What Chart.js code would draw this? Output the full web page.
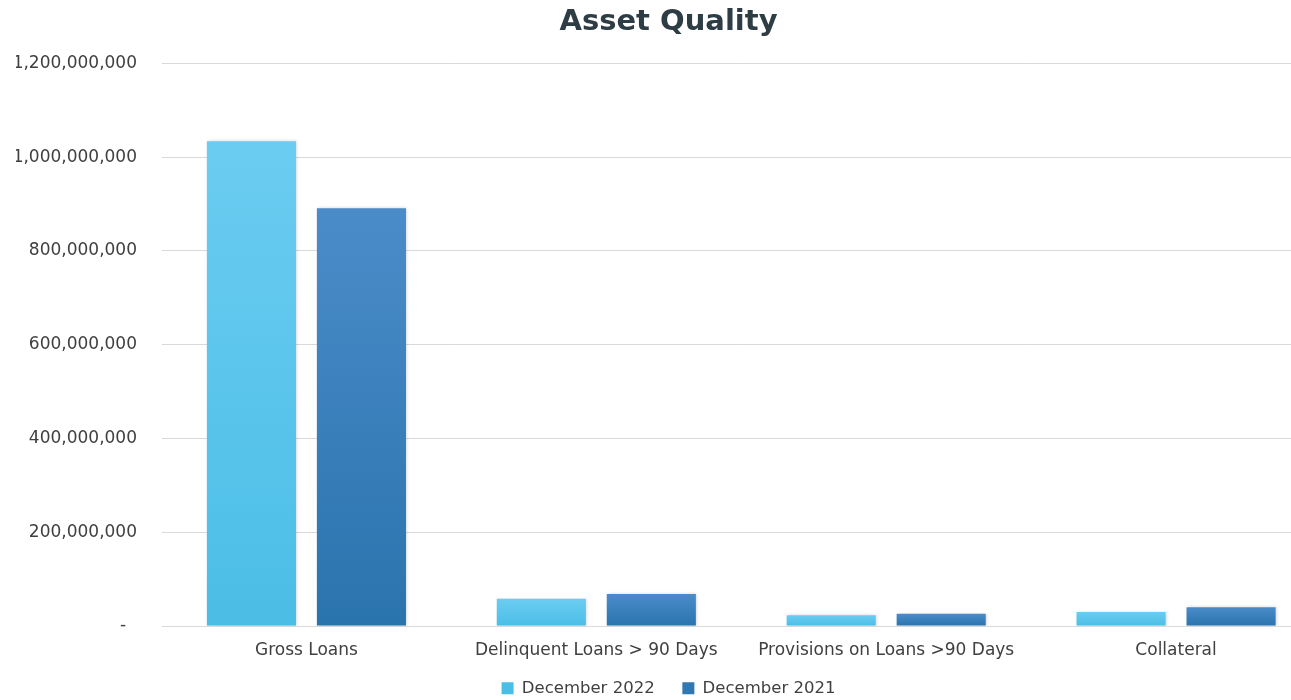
<!DOCTYPE html>
<html>
<head>
<meta charset="utf-8">
<title>Asset Quality</title>
<script src="https://cdn.jsdelivr.net/npm/chart.js@4.4.1/dist/chart.umd.min.js"></script>
<style>
  html, body { margin: 0; padding: 0; background: #fff; overflow: hidden; }
  #wrap { width: 1325px; height: 700px; }
</style>
</head>
<body>
<div id="wrap"><canvas id="aqChart" width="1325" height="700"></canvas></div>
<script>
const categories = [
  "Gross Loans",
  "Delinquent Loans > 90 Days",
  "Provisions on Loans >90 Days",
  "Collateral",
];
const dec2022 = [1034000000, 58000000, 23000000, 30000000];
const dec2021 = [891000000, 68000000, 26000000, 40000000];
const yTicks = [0, 200000000, 400000000, 600000000, 800000000, 1000000000, 1200000000];

const textColor = "#404040";
const fontFamily = "'DejaVu Sans', Verdana, sans-serif";

// vertical gradient per bar, lighter at the top
const barGradient = (top, bottom) => (context) => {
  const chart = context.chart;
  if (!chart.chartArea || context.raw == null) return bottom;
  const y = chart.scales.y;
  const y0 = y.getPixelForValue(context.raw);
  const y1 = y.getPixelForValue(0);
  const g = chart.ctx.createLinearGradient(0, y0, 0, y1);
  g.addColorStop(0, top);
  g.addColorStop(1, bottom);
  return g;
};

const barShadow = {
  id: "barShadow",
  beforeDatasetsDraw(chart) {
    const ctx = chart.ctx;
    ctx.save();
    ctx.shadowColor = "rgba(0,0,0,0.18)";
    ctx.shadowBlur = 3;
    ctx.shadowOffsetX = 1;
    ctx.shadowOffsetY = 0;
  },
  afterDatasetsDraw(chart) {
    chart.ctx.restore();
  },
};

const legendColors = ["#4bbee6", "#2f78b2"];

const ctx = document.getElementById("aqChart");
const aqChart = new Chart(ctx, {
  type: "bar",
  data: {
    labels: categories,
    datasets: [
      {
        label: "December 2022",
        data: dec2022,
        backgroundColor: barGradient("#6bccf1", "#4bbee6"),
        categoryPercentage: 0.759,
        barPercentage: 0.81,
      },
      {
        label: "December 2021",
        data: dec2021,
        backgroundColor: barGradient("#4a8cc9", "#2a74ae"),
        categoryPercentage: 0.759,
        barPercentage: 0.81,
      },
    ],
  },
  options: {
    responsive: false,
    animation: false,
    layout: {
      padding: { left: 16, right: 4, top: 0, bottom: -6.5 },
    },
    plugins: {
      title: {
        display: true,
        text: "Asset Quality",
        color: "#2e3c44",
        font: { family: fontFamily, size: 29, weight: "bold" },
        padding: { top: 5, bottom: 23.5 },
      },
      legend: {
        position: "bottom",
        labels: {
          color: textColor,
          font: { family: fontFamily, size: 16.5 },
          boxWidth: 12,
          boxHeight: 12,
          padding: 12,
          generateLabels(chart) {
            const n = chart.data.datasets.length;
            return chart.data.datasets.map((ds, i) => ({
              // a little extra room between the two entries
              text: i < n - 1 ? ds.label + "   " : ds.label,
              fillStyle: legendColors[i],
              strokeStyle: legendColors[i],
              lineWidth: 0,
              fontColor: textColor,
              datasetIndex: i,
              hidden: false,
            }));
          },
        },
      },
      tooltip: { enabled: false },
    },
    scales: {
      x: {
        grid: { display: false },
        border: { display: false },
        ticks: {
          color: textColor,
          font: { family: fontFamily, size: 17 },
          padding: 6,
          maxRotation: 0,
        },
        afterFit(scale) {
          scale.height = 42;
        },
      },
      y: {
        min: 0,
        max: 1200000000,
        border: { display: false },
        grid: { color: "#d9d9d9", drawTicks: false },
        afterBuildTicks(scale) {
          scale.ticks = yTicks.map((v) => ({ value: v }));
        },
        ticks: {
          color: textColor,
          font: { family: fontFamily, size: 17 },
          padding: 24.5,
          callback: (v) => (v === 0 ? "-  " : v.toLocaleString("en-US")),
        },
        afterFit(scale) {
          scale.width = 145.5;
        },
      },
    },
  },
  plugins: [barShadow],
});
</script>
</body>
</html>
